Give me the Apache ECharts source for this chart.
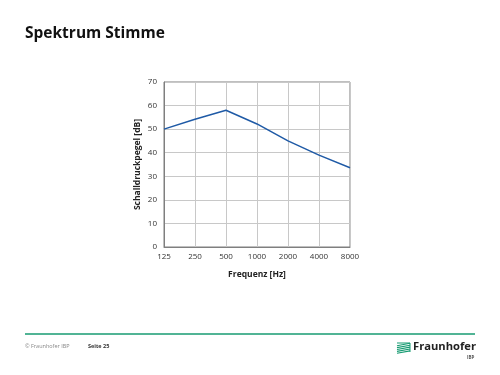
<!DOCTYPE html>
<html><head><meta charset="utf-8">
<script src="https://cdn.jsdelivr.net/npm/echarts@6/dist/echarts.min.js"></script>
<style>html,body{margin:0;padding:0;background:#fff}#c{width:500px;height:375px}</style>
</head><body><div id="c"></div>
<script>
const categories = ['125','250','500','1000','2000','4000','8000'];
const values = [50, 54.2, 58, 52.2, 45, 39, 33.6];
const yTicks = [0,10,20,30,40,50,60,70];
const titleText = 'Spektrum Stimme';
const xName = 'Frequenz [Hz]';
const yName = 'Schalldruckpegel [dB]';

const FONT = '"Open Sans", "Noto Sans", sans-serif';
const GREEN = '#179b72';
const chart = echarts.init(document.getElementById('c'), null, {renderer:'canvas'});
const stripes = [];
for (let i = 0; i < 5; i++) {
  const y = 344.5 + i*1.9;
  stripes.push({type:'line', shape:{x1:397, y1:y+1.2, x2:410, y2:y-1.2}, style:{stroke:GREEN, lineWidth:1.1}});
}
chart.setOption({
  animation:false,
  backgroundColor:'#fff',
  title:{text:titleText, left:25, top:25.5, padding:0, textStyle:{fontFamily:FONT, fontWeight:'bold', fontSize:15.5, color:'#111'}},
  grid:{left:164, right:150, top:82, height:165, show:true, borderColor:'#7f7f7f', borderWidth:1},
  xAxis:{type:'category', data:categories, boundaryGap:false,
    name:xName, nameLocation:'middle', nameGap:23,
    nameTextStyle:{fontFamily:FONT, fontWeight:'bold', fontSize:8.5, color:'#222'},
    axisLine:{lineStyle:{color:'#7f7f7f'}}, axisTick:{show:false},
    axisLabel:{fontFamily:FONT, fontSize:8, color:'#333', margin:6},
    splitLine:{show:true, lineStyle:{color:'#c8c8c8', width:1}}},
  yAxis:{type:'value', min:yTicks[0], max:yTicks[yTicks.length-1], interval:10,
    name:yName, nameLocation:'middle', nameGap:22,
    nameTextStyle:{fontFamily:FONT, fontWeight:'bold', fontSize:8.5, color:'#222'},
    axisLine:{show:true, lineStyle:{color:'#7f7f7f'}}, axisTick:{show:false},
    axisLabel:{fontFamily:FONT, fontSize:8, color:'#333', margin:7},
    splitLine:{show:true, lineStyle:{color:'#c8c8c8', width:1}}},
  series:[{type:'line', data:values, symbol:'none', lineStyle:{color:'#1f5aa6', width:1.5}}],
  graphic:[
    {type:'line', shape:{x1:25, y1:334, x2:475, y2:334}, style:{stroke:GREEN, lineWidth:1.5}},
    {type:'text', left:25, top:343, style:{text:'© Fraunhofer IBP', fontFamily:FONT, fontSize:5.5, fill:'#888'}},
    {type:'text', left:88, top:343, style:{text:'Seite 25', fontFamily:FONT, fontSize:5.5, fontWeight:'bold', fill:'#333'}},
    {type:'group', children: stripes.concat([
      {type:'polyline', shape:{points:[[397,343],[410,343],[410,352]]}, style:{stroke:GREEN, fill:null, lineWidth:1}}
    ])},
    {type:'text', left:413, top:341, style:{text:'Fraunhofer', fontFamily:FONT, fontSize:11.2, fontWeight:'bold', fill:'#222'}},
    {type:'text', left:467, top:355, style:{text:'IBP', fontFamily:FONT, fontSize:4.5, fontWeight:'bold', fill:'#555'}}
  ]
});
</script></body></html>
